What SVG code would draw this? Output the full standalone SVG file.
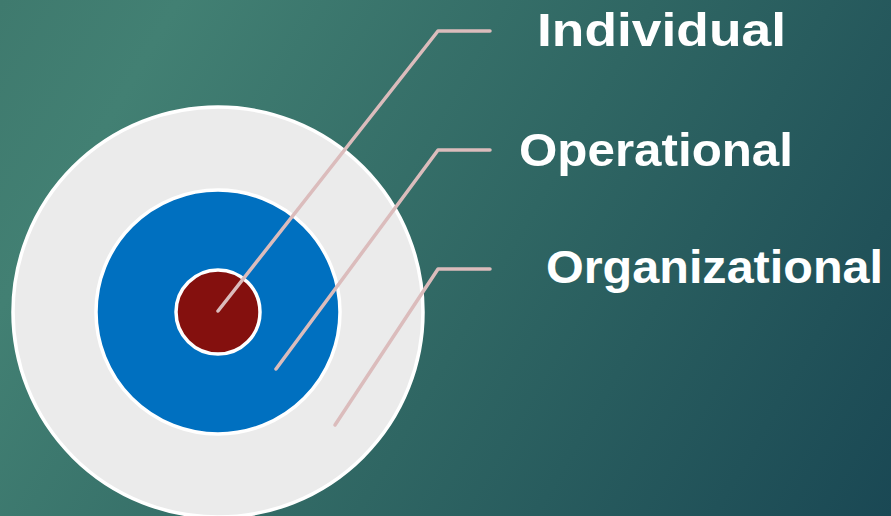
<svg xmlns="http://www.w3.org/2000/svg" width="891" height="516" viewBox="0 0 891 516">
  <defs>
    <linearGradient id="bg" x1="0" y1="0" x2="891" y2="516" gradientUnits="userSpaceOnUse">
      <stop offset="0" stop-color="#3f7a6e"/>
      <stop offset="0.15" stop-color="#428073"/>
      <stop offset="0.55" stop-color="#2f6663"/>
      <stop offset="1" stop-color="#1a4854"/>
    </linearGradient>
    <style>
      .ring { stroke: #ffffff; stroke-width: 3.5; }
      .lead { fill: none; stroke: #dbbcbc; stroke-width: 3.5; stroke-linecap: round; stroke-linejoin: round; }
      .label { fill: #ffffff; font-family: "Liberation Sans", Arial, sans-serif; font-weight: bold; font-size: 47px; }
    </style>
  </defs>
  <rect x="0" y="0" width="891" height="516" fill="url(#bg)"/>

  <g id="organizational-ring">
    <circle class="ring" cx="218" cy="312" r="205" fill="#ebebeb"/>
  </g>
  <g id="operational-ring">
    <circle class="ring" cx="218" cy="312" r="122" fill="#0070c0"/>
  </g>
  <g id="individual-core">
    <circle class="ring" cx="218" cy="312" r="42" fill="#84100e"/>
  </g>

  <g id="connectors">
    <polyline class="lead" points="218,311 438,31 490,31"/>
    <polyline class="lead" points="276,369 438,150 490,150"/>
    <polyline class="lead" points="335,425 438,269 490,269"/>
  </g>

  <g id="label-individual">
    <text class="label" x="537" y="46" textLength="249" lengthAdjust="spacingAndGlyphs">Individual</text>
  </g>
  <g id="label-operational">
    <text class="label" x="519" y="166" textLength="274" lengthAdjust="spacingAndGlyphs">Operational</text>
  </g>
  <g id="label-organizational">
    <text class="label" x="546" y="283" textLength="337" lengthAdjust="spacingAndGlyphs">Organizational</text>
  </g>
</svg>
